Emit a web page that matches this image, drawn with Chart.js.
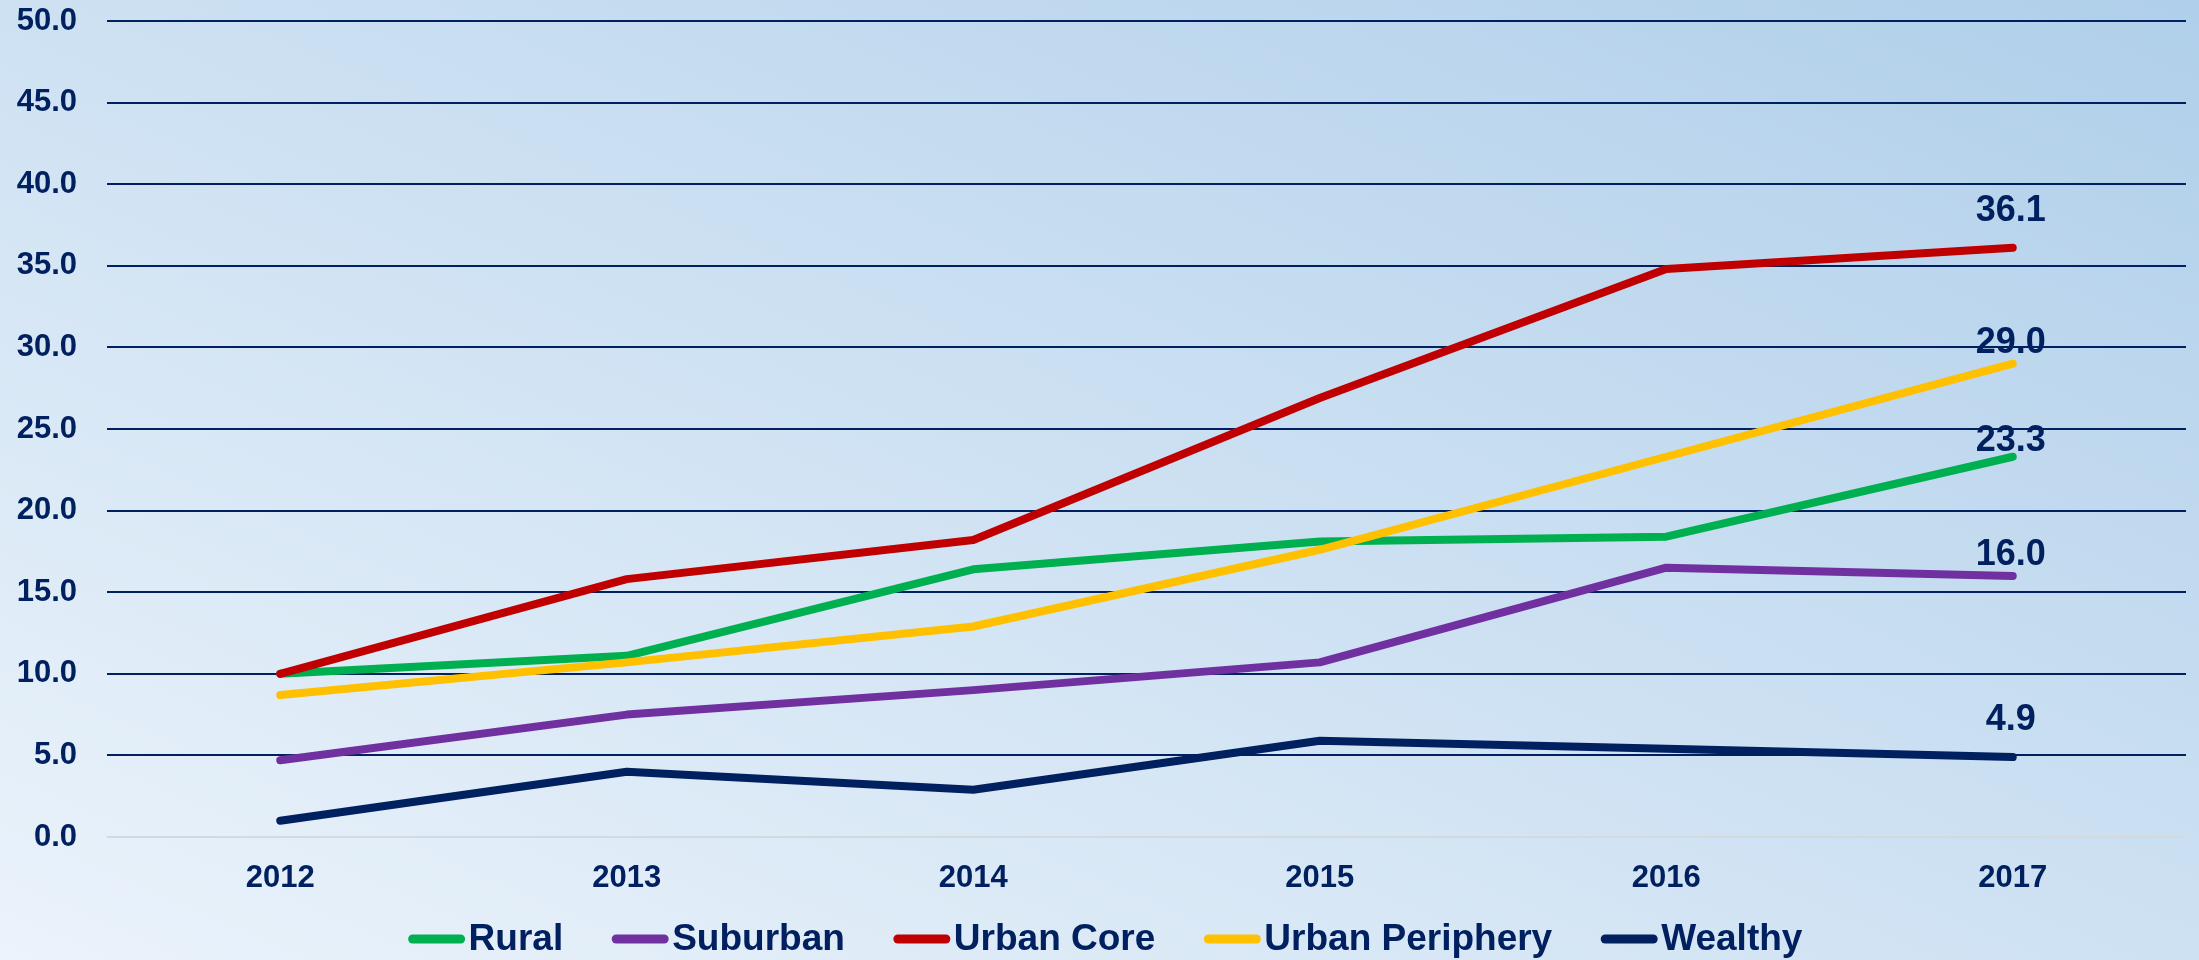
<!DOCTYPE html>
<html>
<head>
<meta charset="utf-8">
<script src="https://cdn.jsdelivr.net/npm/chart.js@4/dist/chart.umd.min.js"></script>
<style>
  html, body { margin: 0; padding: 0; }
  #wrap { width: 2199px; height: 960px; background: linear-gradient(to top right, #ebf3fb 0%, #b0cfea 100%); }
  canvas { display: block; }
</style>
</head>
<body>
<div id="wrap"><canvas id="c" width="2199" height="960"></canvas></div>
<script>
const categories = ['2012', '2013', '2014', '2015', '2016', '2017'];
const rural          = [10.0, 11.1, 16.4, 18.1, 18.4, 23.3];
const suburban       = [4.7, 7.5, 9.0, 10.7, 16.5, 16.0];
const urbanCore      = [10.0, 15.8, 18.2, 26.9, 34.8, 36.1];
const urbanPeriphery = [8.7, 10.7, 12.9, 17.6, 23.3, 29.0];
const wealthy        = [1.0, 4.0, 2.9, 5.9, 5.4, 4.9];
const seriesNames = ['Rural', 'Suburban', 'Urban Core', 'Urban Periphery', 'Wealthy'];
const seriesData = [rural, suburban, urbanCore, urbanPeriphery, wealthy];
const seriesColors = ['#00B050', '#7030A0', '#C00000', '#FFC000', '#002060'];
const yTicks = { min: 0, max: 50, step: 5 };

// label lift above last point (style only)
const labelLift = [6, 11, 27, 11, 27];

const FONT = "'Liberation Sans', Arial, sans-serif";
const INK = '#002060';

const lastLabels = {
  id: 'lastLabels',
  afterDatasetsDraw(chart) {
    const ctx = chart.ctx;
    ctx.save();
    ctx.font = 'bold 36px ' + FONT;
    ctx.fillStyle = INK;
    ctx.textAlign = 'center';
    ctx.textBaseline = 'alphabetic';
    chart.data.datasets.forEach((ds, i) => {
      const meta = chart.getDatasetMeta(i);
      const n = ds.data.length - 1;
      const pt = meta.data[n];
      ctx.fillText(ds.data[n].toFixed(1), pt.x - 2, pt.y - labelLift[i]);
    });
    ctx.restore();
  }
};

const customLegend = {
  id: 'customLegend',
  afterDraw(chart) {
    const ctx = chart.ctx;
    ctx.save();
    ctx.font = 'bold 37px ' + FONT;
    const markW = 56, markGap = 4, itemGap = 49;
    const items = chart.data.datasets.map(ds => ({ label: ds.label, color: ds.borderColor, w: ctx.measureText(ds.label).width }));
    let total = 0;
    items.forEach((it, i) => { total += markW + markGap + it.w + (i < items.length - 1 ? itemGap : 0); });
    let x = chart.width / 2 - total / 2 + 6;
    const y = 939;
    items.forEach(it => {
      ctx.strokeStyle = it.color;
      ctx.lineWidth = 9;
      ctx.lineCap = 'round';
      ctx.beginPath();
      ctx.moveTo(x + 4, y);
      ctx.lineTo(x + markW - 4, y);
      ctx.stroke();
      ctx.fillStyle = INK;
      ctx.textAlign = 'left';
      ctx.textBaseline = 'middle';
      ctx.fillText(it.label, x + markW + markGap, y + 1);
      x += markW + markGap + it.w + itemGap;
    });
    ctx.restore();
  }
};

new Chart(document.getElementById('c'), {
  type: 'line',
  data: {
    labels: categories,
    datasets: seriesNames.map((name, i) => ({
      label: name,
      data: seriesData[i],
      borderColor: seriesColors[i],
      backgroundColor: seriesColors[i],
      borderWidth: 8,
      borderCapStyle: 'round',
      borderJoinStyle: 'round',
      pointRadius: 0,
      pointHoverRadius: 0,
      tension: 0,
      fill: false,
      order: seriesNames.length - i
    }))
  },
  options: {
    responsive: false,
    devicePixelRatio: 1,
    animation: false,
    layout: { padding: { left: 0, right: 13, top: 21, bottom: 63 } },
    plugins: { legend: { display: false }, tooltip: { enabled: false } },
    scales: {
      x: {
        offset: true,
        grid: { display: false, drawTicks: false },
        border: { display: false },
        ticks: { color: INK, font: { family: FONT, size: 31, weight: 'bold' }, padding: 23, maxRotation: 0 },
        afterFit(scale) { scale.height = 60; scale.paddingLeft = 0; scale.paddingRight = 0; }
      },
      y: {
        min: yTicks.min,
        max: yTicks.max,
        grid: {
          drawTicks: false,
          lineWidth: 2,
          color: c => (c.tick && c.tick.value === 0) ? '#d4d9de' : INK
        },
        border: { display: false },
        ticks: {
          stepSize: yTicks.step,
          color: INK,
          font: { family: FONT, size: 31, weight: 'bold' },
          padding: 30,
          callback: v => Number(v).toFixed(1)
        },
        afterFit(scale) { scale.width = 107; scale.paddingTop = 0; scale.paddingBottom = 0; }
      }
    }
  },
  plugins: [lastLabels, customLegend]
});
</script>
</body>
</html>
